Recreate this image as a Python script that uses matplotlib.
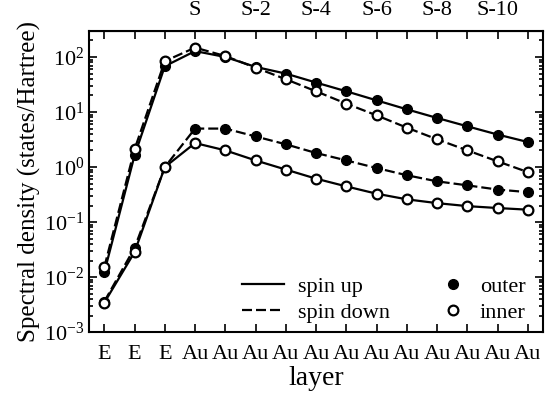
import matplotlib
matplotlib.use('Agg')
import matplotlib.pyplot as plt
from matplotlib.lines import Line2D

plt.rcParams['font.family'] = ['Liberation Serif', 'DejaVu Serif']
plt.rcParams['mathtext.fontset'] = 'stix'
plt.rcParams['lines.dashed_pattern'] = [4.5, 1.8]

layers = ['E', 'E', 'E'] + ['Au'] * 12
top_labels = ['', '', '', 'S', '', 'S-2', '', 'S-4', '', 'S-6', '', 'S-8', '', 'S-10', '']

# upper group
up_outer = [0.0123, 1.63, 68, 128, 100, 66, 49.9, 34.3, 23.8, 16.3, 11.2, 7.8, 5.5, 3.9, 2.85]
down_inner = [0.0152, 2.1, 84, 148, 104, 64, 39.4, 23.8, 14.2, 8.7, 5.2, 3.19, 2.01, 1.27, 0.81]
# lower group
down_outer = [0.0036, 0.034, 1.0, 5.0, 5.0, 3.6, 2.59, 1.80, 1.32, 0.96, 0.71, 0.55, 0.465, 0.39, 0.35]
up_inner = [0.00343, 0.0285, 1.0, 2.73, 2.01, 1.32, 0.90, 0.615, 0.445, 0.328, 0.259, 0.221, 0.195, 0.18, 0.168]

x = list(range(len(layers)))

fig = plt.figure(figsize=(5.54, 3.94), dpi=100)
ax = fig.add_axes([0.161, 0.157, 0.819, 0.765])

ms = 7
ax.plot(x, up_outer, color='black', linestyle='-', linewidth=1.6,
        marker='o', markersize=ms, markerfacecolor='black', markeredgecolor='black')
ax.plot(x, down_inner, color='black', linestyle='--', linewidth=1.6,
        marker='o', markersize=ms, markerfacecolor='white', markeredgecolor='black', markeredgewidth=1.6)
ax.plot(x, down_outer, color='black', linestyle='--', linewidth=1.6,
        marker='o', markersize=ms, markerfacecolor='black', markeredgecolor='black')
ax.plot(x, up_inner, color='black', linestyle='-', linewidth=1.6,
        marker='o', markersize=ms, markerfacecolor='white', markeredgecolor='black', markeredgewidth=1.6)

ax.set_yscale('log')
ax.set_ylim(1e-3, 3e2)
ax.set_xlim(-0.5, 14.5)
ax.set_xticks(x)
ax.set_xticklabels(layers)
ax.tick_params(which='both', direction='in', top=True, right=True, labelsize=16, width=1.2)
ax.tick_params(which='major', length=6)
ax.tick_params(which='minor', length=3)
ax.tick_params(axis='x', pad=9)
for s in ax.spines.values():
    s.set_linewidth(1.5)

ax.set_xlabel('layer', fontsize=20, labelpad=2)
ax.set_ylabel('Spectral density (states/Hartree)', fontsize=18, labelpad=2)

top = ax.secondary_xaxis('top')
top.set_xticks(x)
top.set_xticklabels(top_labels)
top.tick_params(direction='in', length=0, labelsize=16, pad=8)

line_handles = [Line2D([], [], color='black', linestyle='-', linewidth=1.6),
                Line2D([], [], color='black', linestyle='--', linewidth=1.6)]
mark_handles = [Line2D([], [], color='black', linestyle='none', marker='o', markersize=ms),
                Line2D([], [], color='black', linestyle='none', marker='o', markersize=ms,
                       markerfacecolor='white', markeredgewidth=1.6)]

leg1 = ax.legend(line_handles, ['spin up', 'spin down'], frameon=False, fontsize=16,
                 loc='lower left', bbox_to_anchor=(0.337, 0.03), borderpad=0,
                 borderaxespad=0, handlelength=1.9, handletextpad=0.6, labelspacing=0.25)
ax.add_artist(leg1)
ax.legend(mark_handles, ['outer', 'inner'], frameon=False, fontsize=16,
          loc='lower left', bbox_to_anchor=(0.777, 0.03), borderpad=0,
          borderaxespad=0, handlelength=1.0, handletextpad=0.72, labelspacing=0.25)

fig.savefig('out.png', dpi=100)
